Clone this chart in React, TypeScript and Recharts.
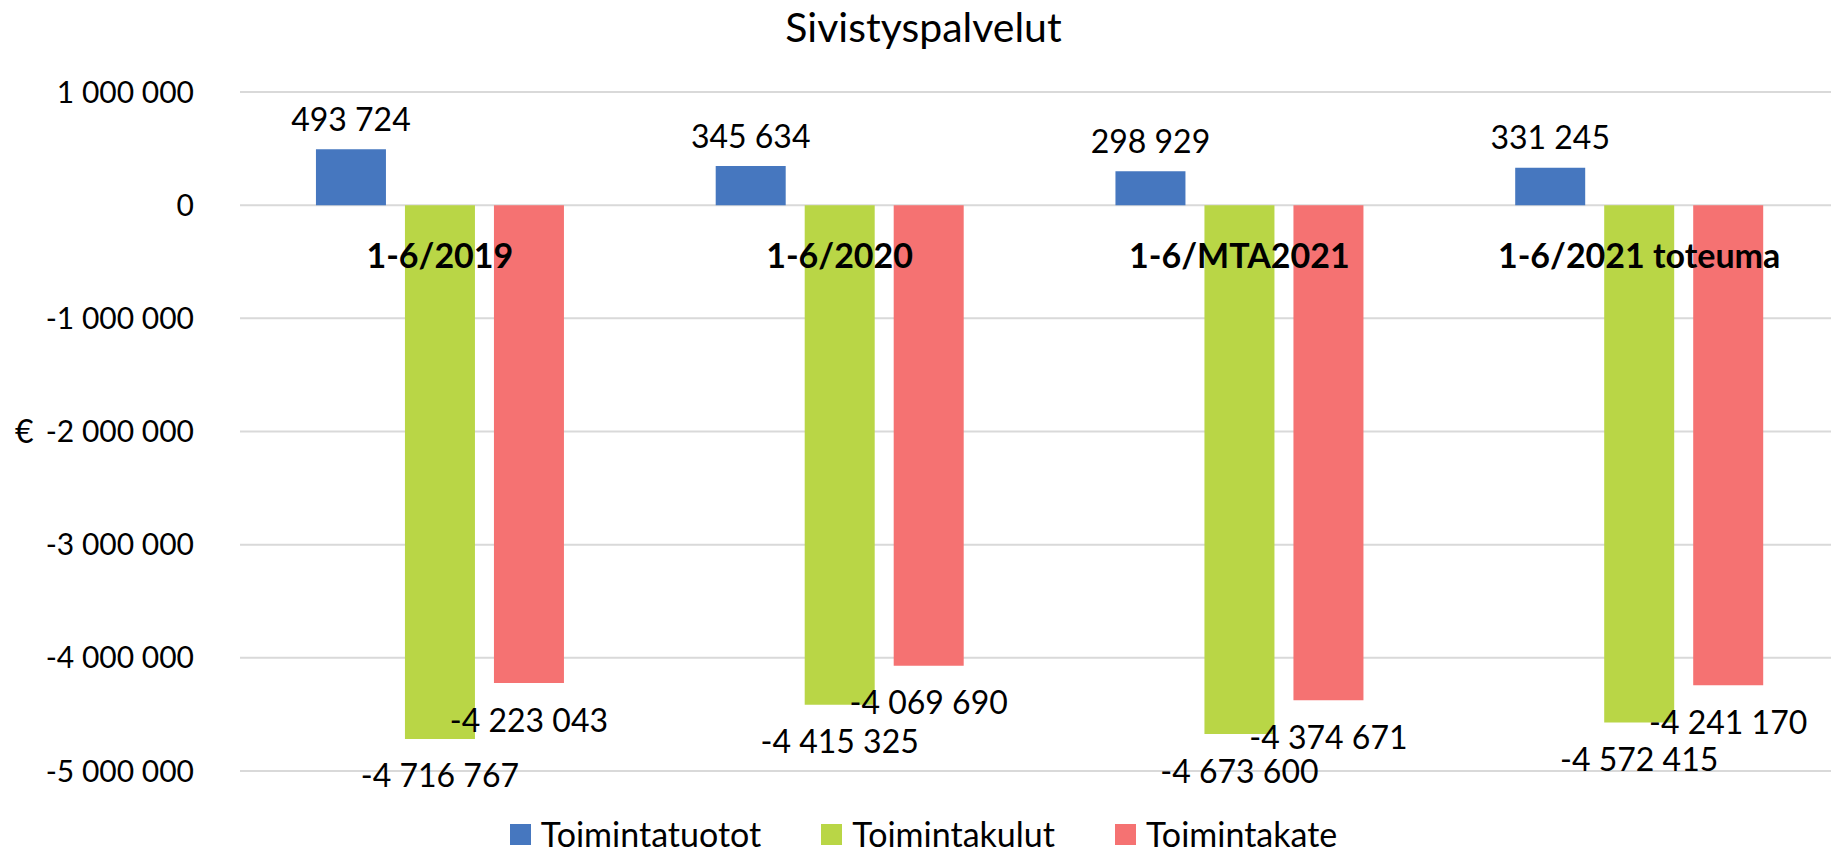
import React from "react";
import { BarChart, Bar, XAxis, YAxis, CartesianGrid, Legend, LabelList } from "recharts";

const categories = ["1-6/2019", "1-6/2020", "1-6/MTA2021", "1-6/2021 toteuma"];
const toimintatuotot = [493724, 345634, 298929, 331245];
const toimintakulut = [-4716767, -4415325, -4673600, -4572415];
const toimintakate = [-4223043, -4069690, -4374671, -4241170];
const yTicks = [1000000, 0, -1000000, -2000000, -3000000, -4000000, -5000000];

const seriesNames = ["Toimintatuotot", "Toimintakulut", "Toimintakate"];
const colors = ["#4677BF", "#B9D646", "#F57272"];

const data = categories.map((name, i) => ({
  name,
  tuotot: toimintatuotot[i],
  kulut: toimintakulut[i],
  kate: toimintakate[i],
}));

const W = 1831;
const H = 843;
const TOP = 84;
const X_AXIS_H = 50;
const LEGEND_H = 30;
const Y_MAX = 1000000;
const Y_MIN = -5000000;
const PLOT_H = H - TOP - X_AXIS_H - LEGEND_H;
const ZERO_Y = TOP + (PLOT_H * Y_MAX) / (Y_MAX - Y_MIN);

const FONT = "Lato, 'Noto Sans', sans-serif";

// 1000000 -> "1 000 000"
const fmt = (n: number) =>
  (n < 0 ? "-" : "") + Math.abs(n).toString().replace(/\B(?=(\d{3})+(?!\d))/g, " ");

const CategoryTick = (props: any) => {
  const { x, payload } = props;
  return (
    <text
      x={x}
      y={ZERO_Y + 49}
      textAnchor="middle"
      dominantBaseline="central"
      fontFamily={FONT}
      fontWeight="bold"
      fontSize={34}
      fill="#000"
    >
      {payload.value}
    </text>
  );
};

const ValueLabel = (props: any) => {
  const { x, y, width, height, value } = props;
  const top = Math.min(y, y + height);
  const bottom = Math.max(y, y + height);
  const ly = value >= 0 ? top - 31 : bottom + 36;
  return (
    <text
      x={x + width / 2}
      y={ly}
      textAnchor="middle"
      dominantBaseline="central"
      fontFamily={FONT}
      fontSize={32}
      fill="#000"
    >
      {fmt(value)}
    </text>
  );
};

const LegendContent = () => (
  <div
    style={{
      height: LEGEND_H,
      display: "flex",
      justifyContent: "center",
      alignItems: "center",
      fontFamily: FONT,
      fontSize: 34,
      lineHeight: "30px",
      color: "#000",
    }}
  >
    {seriesNames.map((s, i) => (
      <div key={s} style={{ display: "flex", alignItems: "center", marginRight: i < 2 ? 60 : 0 }}>
        <span style={{ width: 21, height: 21, background: colors[i], marginRight: 10, display: "inline-block" }} />
        <span>{s}</span>
      </div>
    ))}
  </div>
);

export default function App() {
  return (
    <div style={{ position: "relative", width: W, height: H, fontFamily: FONT }}>
      <div
        style={{
          position: "absolute",
          top: 0,
          left: 0,
          width: W,
          textAlign: "center",
          fontSize: 41,
          lineHeight: "38px",
          color: "#000",
        }}
      >
        Sivistyspalvelut
      </div>
      <BarChart
        width={W}
        height={H}
        data={data}
        margin={{ top: TOP, right: 0, bottom: 0, left: 0 }}
        barCategoryGap="19%"
        barGap={19}
      >
        <CartesianGrid vertical={false} stroke="#d9d9d9" strokeWidth={2} />
        <XAxis
          dataKey="name"
          axisLine={false}
          tickLine={false}
          height={X_AXIS_H}
          interval={0}
          tick={<CategoryTick />}
        />
        <YAxis
          width={232}
          domain={[Y_MIN, Y_MAX]}
          ticks={yTicks}
          axisLine={false}
          tickLine={false}
          tickSize={0}
          tickMargin={46}
          tickFormatter={fmt}
          tick={{ fontFamily: FONT, fontSize: 30, fill: "#000" }}
          label={{ value: "€", position: "insideLeft", offset: 7, fontFamily: FONT, fontSize: 32, fill: "#000" }}
        />
        <Legend
          verticalAlign="bottom"
          content={<LegendContent />}
          wrapperStyle={{ bottom: 2, height: LEGEND_H }}
        />
        <Bar dataKey="tuotot" name={seriesNames[0]} fill={colors[0]} isAnimationActive={false}>
          <LabelList dataKey="tuotot" content={<ValueLabel />} />
        </Bar>
        <Bar dataKey="kulut" name={seriesNames[1]} fill={colors[1]} isAnimationActive={false}>
          <LabelList dataKey="kulut" content={<ValueLabel />} />
        </Bar>
        <Bar dataKey="kate" name={seriesNames[2]} fill={colors[2]} isAnimationActive={false}>
          <LabelList dataKey="kate" content={<ValueLabel />} />
        </Bar>
      </BarChart>
    </div>
  );
}
